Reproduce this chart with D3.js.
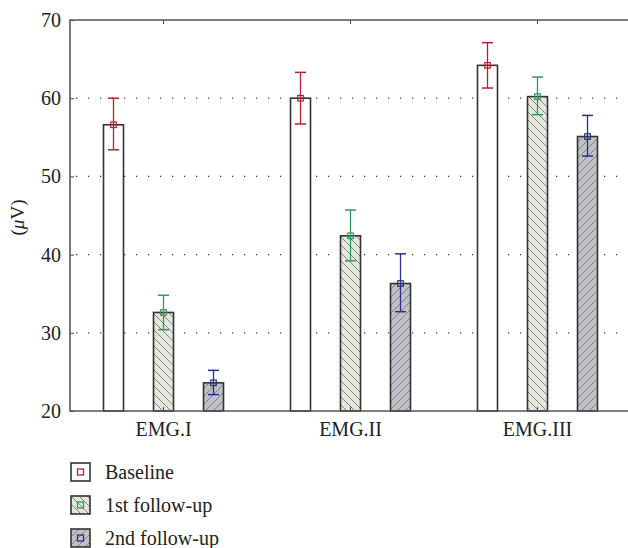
<!DOCTYPE html>
<html>
<head>
  <script src="https://d3js.org/d3.v7.min.js"></script>
  <style>
    body { margin: 0; background: white; }
    text { font-family: "Liberation Serif", "DejaVu Serif", serif; fill: #222; }
  </style>
</head>
<body>
<script>
  const categories = ["EMG.I", "EMG.II", "EMG.III"];
  const seriesNames = ["Baseline", "1st follow-up", "2nd follow-up"];
  // mean values per series, one entry per category
  const baseline = [56.6, 60.0, 64.2];
  const followUp1 = [32.6, 42.4, 60.2];
  const followUp2 = [23.6, 36.3, 55.1];
  // error bar ends
  const baselineHi = [60.0, 63.3, 67.1];
  const baselineLo = [53.4, 56.7, 61.3];
  const followUp1Hi = [34.8, 45.7, 62.7];
  const followUp1Lo = [30.4, 39.2, 57.9];
  const followUp2Hi = [25.2, 40.1, 57.8];
  const followUp2Lo = [22.1, 32.7, 52.6];
  const yTicks = [20, 30, 40, 50, 60, 70];

  const width = 628, height = 548;
  const margin = { top: 20, right: -3, bottom: 137, left: 70 };
  const barW = 20;

  const svg = d3.select("body").append("svg")
    .attr("width", width)
    .attr("height", height);

  const defs = svg.append("defs");
  function hatch(id, bg, dir) {
    const p = defs.append("pattern")
      .attr("id", id)
      .attr("patternUnits", "userSpaceOnUse")
      .attr("width", 8).attr("height", 8);
    p.append("rect").attr("width", 8).attr("height", 8).attr("fill", bg);
    const d = dir > 0 ? "M-1,9 L9,-1 M-4,4 L4,-4 M4,12 L12,4" : "M-1,-1 L9,9 M-4,4 L4,12 M4,-4 L12,4";
    p.append("path").attr("d", d).attr("stroke", "#7a7a7a").attr("stroke-width", 0.9);
  }
  hatch("h1", "#e3e7dc", -1);
  hatch("h2", "#c0c1c7", 1);

  const series = [
    { name: seriesNames[0], vals: baseline, hi: baselineHi, lo: baselineLo, fill: "#ffffff", color: "#b5202e" },
    { name: seriesNames[1], vals: followUp1, hi: followUp1Hi, lo: followUp1Lo, fill: "url(#h1)", color: "#2b9b62" },
    { name: seriesNames[2], vals: followUp2, hi: followUp2Hi, lo: followUp2Lo, fill: "url(#h2)", color: "#2a2f8e" }
  ];

  const x = d3.scaleBand()
    .domain(categories)
    .range([margin.left, width - margin.right]);
  // offset of each series' bar centre from the category centre
  const xs = d3.scalePoint()
    .domain(seriesNames)
    .range([-50, 50]);
  const cx = (c, s) => x(c) + x.bandwidth() / 2 + xs(s);
  const y = d3.scaleLinear()
    .domain([20, 70])
    .range([height - margin.bottom, margin.top]);

  // dotted gridlines
  svg.append("g")
    .selectAll("line")
    .data(yTicks.filter(t => t > 20 && t < 70))
    .join("line")
    .attr("x1", margin.left + 6).attr("x2", width)
    .attr("y1", d => y(d)).attr("y2", d => y(d))
    .attr("stroke", "#333")
    .attr("stroke-width", 1.2)
    .attr("stroke-dasharray", "1.2,10.8");

  // bars
  const groups = svg.append("g")
    .selectAll("g")
    .data(series)
    .join("g");

  groups.selectAll("rect.bar")
    .data(s => s.vals.map((v, i) => ({ s, v, c: categories[i] })))
    .join("rect")
    .attr("class", "bar")
    .attr("x", d => cx(d.c, d.s.name) - barW / 2)
    .attr("width", barW)
    .attr("y", d => y(d.v))
    .attr("height", d => y(20) - y(d.v))
    .attr("fill", d => d.s.fill)
    .attr("stroke", "#333")
    .attr("stroke-width", 1.6);

  // error bars
  const errs = groups.selectAll("g.err")
    .data(s => s.vals.map((v, i) => ({ s, v, hi: s.hi[i], lo: s.lo[i], c: categories[i] })))
    .join("g")
    .attr("class", "err")
    .attr("transform", d => `translate(${cx(d.c, d.s.name)},0)`);
  errs.append("line")
    .attr("y1", d => y(d.hi)).attr("y2", d => y(d.lo))
    .attr("stroke", d => d.s.color).attr("stroke-width", 1.3);
  errs.append("line")
    .attr("x1", -5.5).attr("x2", 5.5)
    .attr("y1", d => y(d.hi)).attr("y2", d => y(d.hi))
    .attr("stroke", d => d.s.color).attr("stroke-width", 1.5);
  errs.append("line")
    .attr("x1", -5.5).attr("x2", 5.5)
    .attr("y1", d => y(d.lo)).attr("y2", d => y(d.lo))
    .attr("stroke", d => d.s.color).attr("stroke-width", 1.5);
  errs.append("rect")
    .attr("x", -2.8).attr("width", 5.6)
    .attr("y", d => y(d.v) - 2.8).attr("height", 5.6)
    .attr("fill", "none")
    .attr("stroke", d => d.s.color).attr("stroke-width", 1.2);

  // axes
  const yAxis = svg.append("g")
    .attr("transform", `translate(${margin.left},0)`)
    .call(d3.axisLeft(y).tickValues(yTicks).tickSize(-4).tickPadding(9));
  yAxis.select(".domain").remove();
  yAxis.selectAll("text").attr("font-size", 20).attr("font-family", "Liberation Serif, serif").attr("fill", "#222");
  yAxis.selectAll(".tick line").attr("stroke", "#444");

  const xAxis = svg.append("g")
    .attr("transform", `translate(0,${y(20)})`)
    .call(d3.axisBottom(x).tickSize(-4).tickPadding(11));
  xAxis.select(".domain").remove();
  xAxis.selectAll("text").attr("font-size", 20).attr("font-family", "Liberation Serif, serif").attr("fill", "#222");
  xAxis.selectAll(".tick line").attr("stroke", "#444");

  const xTop = svg.append("g")
    .attr("transform", `translate(0,${y(70)})`)
    .call(d3.axisTop(x).tickSize(-4).tickFormat(""));
  xTop.select(".domain").remove();
  xTop.selectAll(".tick line").attr("stroke", "#444");

  // frame
  svg.append("path")
    .attr("d", `M${width},${y(70)} H${margin.left} V${y(20)} H${width}`)
    .attr("fill", "none")
    .attr("stroke", "#555")
    .attr("stroke-width", 1.6);

  // y title
  svg.append("text")
    .attr("transform", `translate(24,${(y(20) + y(70)) / 2 + 2}) rotate(-90)`)
    .attr("text-anchor", "middle")
    .attr("font-size", 19)
    .html("(<tspan font-style='italic'>μ</tspan>V)");

  // legend
  const legend = svg.append("g")
    .selectAll("g")
    .data(series)
    .join("g")
    .attr("transform", (d, i) => `translate(71,${463 + i * 33})`);
  legend.append("rect")
    .attr("width", 19).attr("height", 18)
    .attr("fill", d => d.fill)
    .attr("stroke", "#333").attr("stroke-width", 1.6);
  legend.append("rect")
    .attr("x", 6.5).attr("y", 6).attr("width", 6).attr("height", 6)
    .attr("fill", "none")
    .attr("stroke", d => d.color).attr("stroke-width", 1.3);
  legend.append("text")
    .attr("x", 34).attr("y", 16)
    .attr("font-size", 20)
    .text(d => d.name);
</script>
</body>
</html>
